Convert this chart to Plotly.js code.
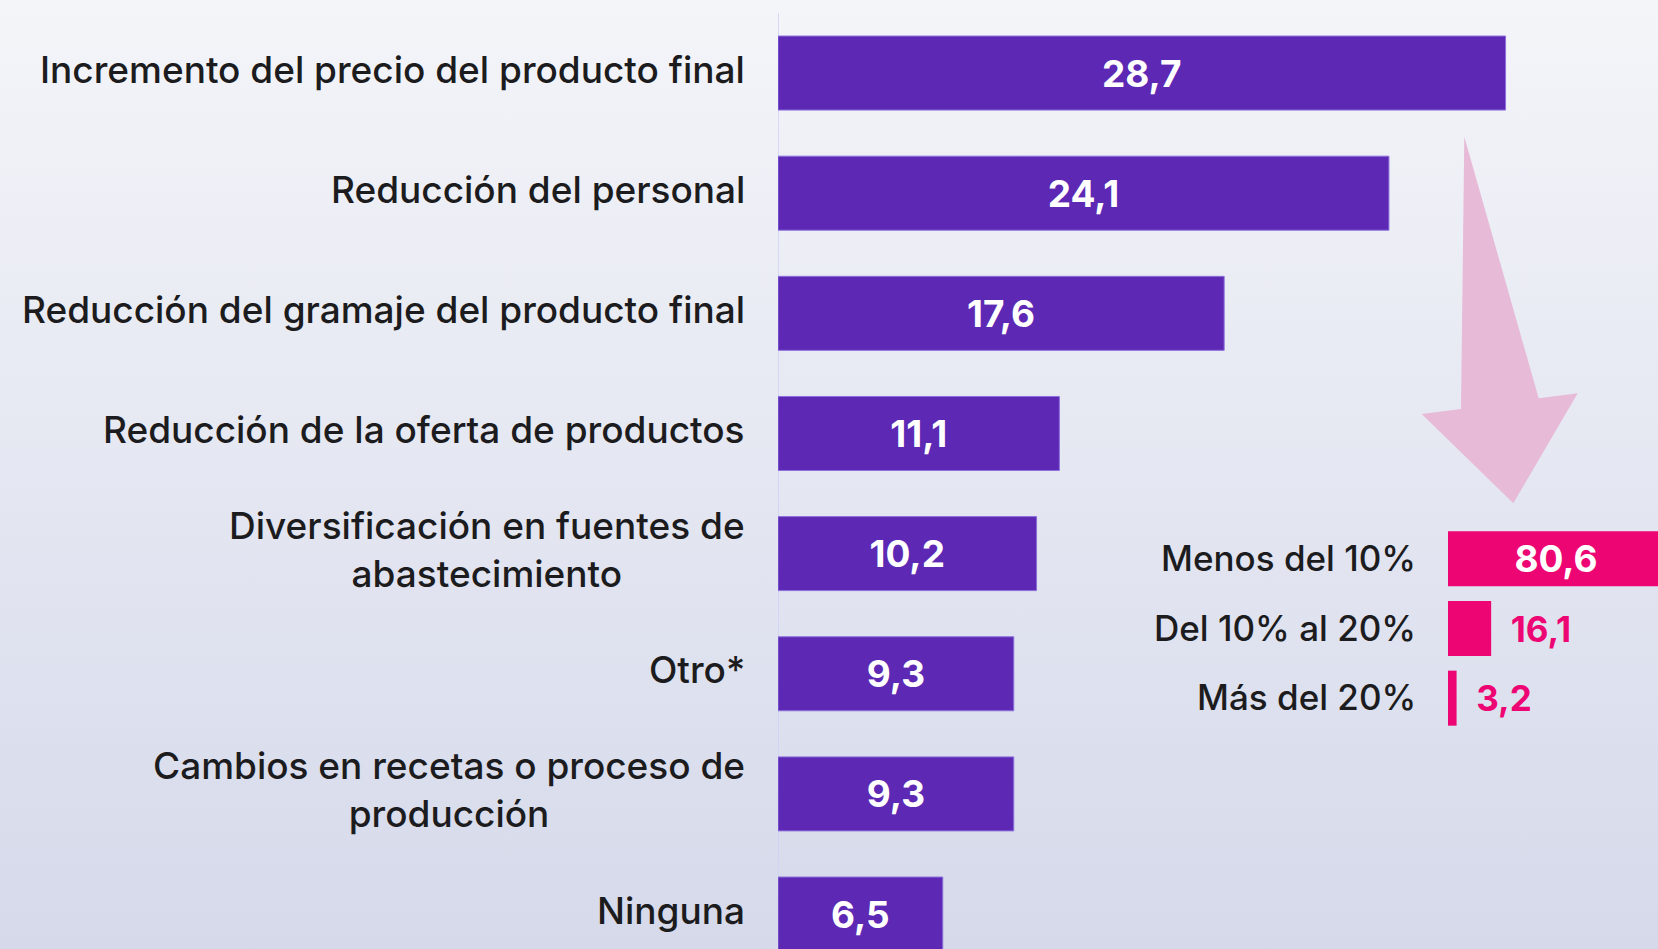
<!DOCTYPE html>
<html><head><meta charset="utf-8">
<script src="https://cdn.plot.ly/plotly-3.0.1.min.js"></script>
<style>
html,body{margin:0;padding:0;width:1658px;height:949px;overflow:hidden;background:linear-gradient(to bottom,#f4f5f9 0%,#d5d9ea 100%);}
#chart{width:1666px;height:949px;}
</style></head><body><div id="chart"></div>
<script>
const medidas = [
  "Incremento del precio del producto final",
  "Reducción del personal",
  "Reducción del gramaje del producto final",
  "Reducción de la oferta de productos",
  "Diversificación en fuentes de<br>abastecimiento",
  "Otro*",
  "Cambios en recetas o proceso de<br>producción",
  "Ninguna"
];
const porcentajes = [28.7, 24.1, 17.6, 11.1, 10.2, 9.3, 9.3, 6.5];

const rangos = ["Menos del 10%", "Del 10% al 20%", "Más del 20%"];
const rangosValores = [80.6, 16.1, 3.2];

// layout is slightly wider than the 1658px window; the overflow is cut off like the reference
const W = 1666, H = 949;
const FONT = "Inter, 'Open Sans', sans-serif";
const PURPLE = "#5c28b4";
const PINK = "#ed0573";
const TXT = "#1c1c1e";

const fmt = v => v.toFixed(1).replace('.', ',');
const NB = "\u00a0\u00a0";

const mainTrace = {
  type: 'bar', orientation: 'h',
  y: medidas, x: porcentajes,
  xaxis: 'x', yaxis: 'y',
  width: 0.616,
  marker: {color: PURPLE, line: {color: '#8c70dc', width: 1}},
  texttemplate: '%{x:.1f}',
  textposition: 'inside', insidetextanchor: 'middle', textangle: 0,
  insidetextfont: {family: FONT, size: 37, color: '#ffffff', weight: 700},
  constraintext: 'none',
  hoverinfo: 'skip', cliponaxis: true
};

const insetTrace = {
  type: 'bar', orientation: 'h',
  y: rangos, x: rangosValores,
  xaxis: 'x2', yaxis: 'y2',
  width: 0.79,
  marker: {color: PINK},
  text: rangosValores.map((v, i) => i === 0 ? fmt(v) : NB + fmt(v)),
  textposition: rangosValores.map((v, i) => i === 0 ? 'inside' : 'outside'),
  insidetextanchor: 'middle', textangle: 0,
  insidetextfont: {family: FONT, size: 37, color: '#ffffff', weight: 700},
  outsidetextfont: {family: FONT, size: 35, color: PINK, weight: 700},
  constraintext: 'none',
  hoverinfo: 'skip', cliponaxis: false
};

const px = x => x / W;
const py = y => 1 - y / H;
const arrowPts = [[1464.3,136.7],[1538.7,398.3],[1577.7,393.3],[1513.3,503.3],[1421.7,414],[1461,409]];
const arrowPath = 'M ' + arrowPts.map(p => px(p[0]).toFixed(5) + ',' + py(p[1]).toFixed(5)).join(' L ') + ' Z';

const annotations = [];
medidas.forEach(m => annotations.push({
  xref: 'paper', yref: 'y', x: px(747), y: m, text: m,
  xanchor: 'right', yanchor: 'middle', align: 'center', showarrow: false, yshift: 4,
  font: {family: FONT, size: 37, color: TXT, weight: 500}
}));
rangos.forEach(r => annotations.push({
  xref: 'paper', yref: 'y2', x: px(1418), y: r, text: r,
  xanchor: 'right', yanchor: 'middle', align: 'right', showarrow: false, yshift: 1,
  font: {family: FONT, size: 35, color: TXT, weight: 500}
}));

const layout = {
  width: W, height: H,
  margin: {l: 0, r: 0, t: 0, b: 0, pad: 0},
  paper_bgcolor: 'rgba(0,0,0,0)', plot_bgcolor: 'rgba(0,0,0,0)',
  showlegend: false,
  separators: ',.',
  font: {family: FONT, color: TXT},
  xaxis: {domain: [px(778), 1], range: [0, (W - 778) / 25.35], visible: false, fixedrange: true},
  yaxis: {type: 'category', domain: [0, 1], range: [7.291, -0.608], visible: false, fixedrange: true},
  xaxis2: {domain: [px(1448), 1], range: [0, (W - 1448) / 2.68], visible: false, anchor: 'y2'},
  yaxis2: {type: 'category', domain: [py(733), py(524)], range: [2.5, -0.5], visible: false, anchor: 'x2'},
  shapes: [
    {type: 'line', xref: 'x', yref: 'paper', x0: 0, x1: 0, y0: 0, y1: py(13),
     line: {color: '#cfd0f4', width: 1.5}, layer: 'below'},
    {type: 'path', xref: 'paper', yref: 'paper', path: arrowPath,
     fillcolor: '#e7bad8', line: {width: 0}, layer: 'below'}
  ],
  annotations: annotations
};

Plotly.newPlot('chart', [mainTrace, insetTrace], layout, {staticPlot: true, displayModeBar: false});
</script></body></html>
